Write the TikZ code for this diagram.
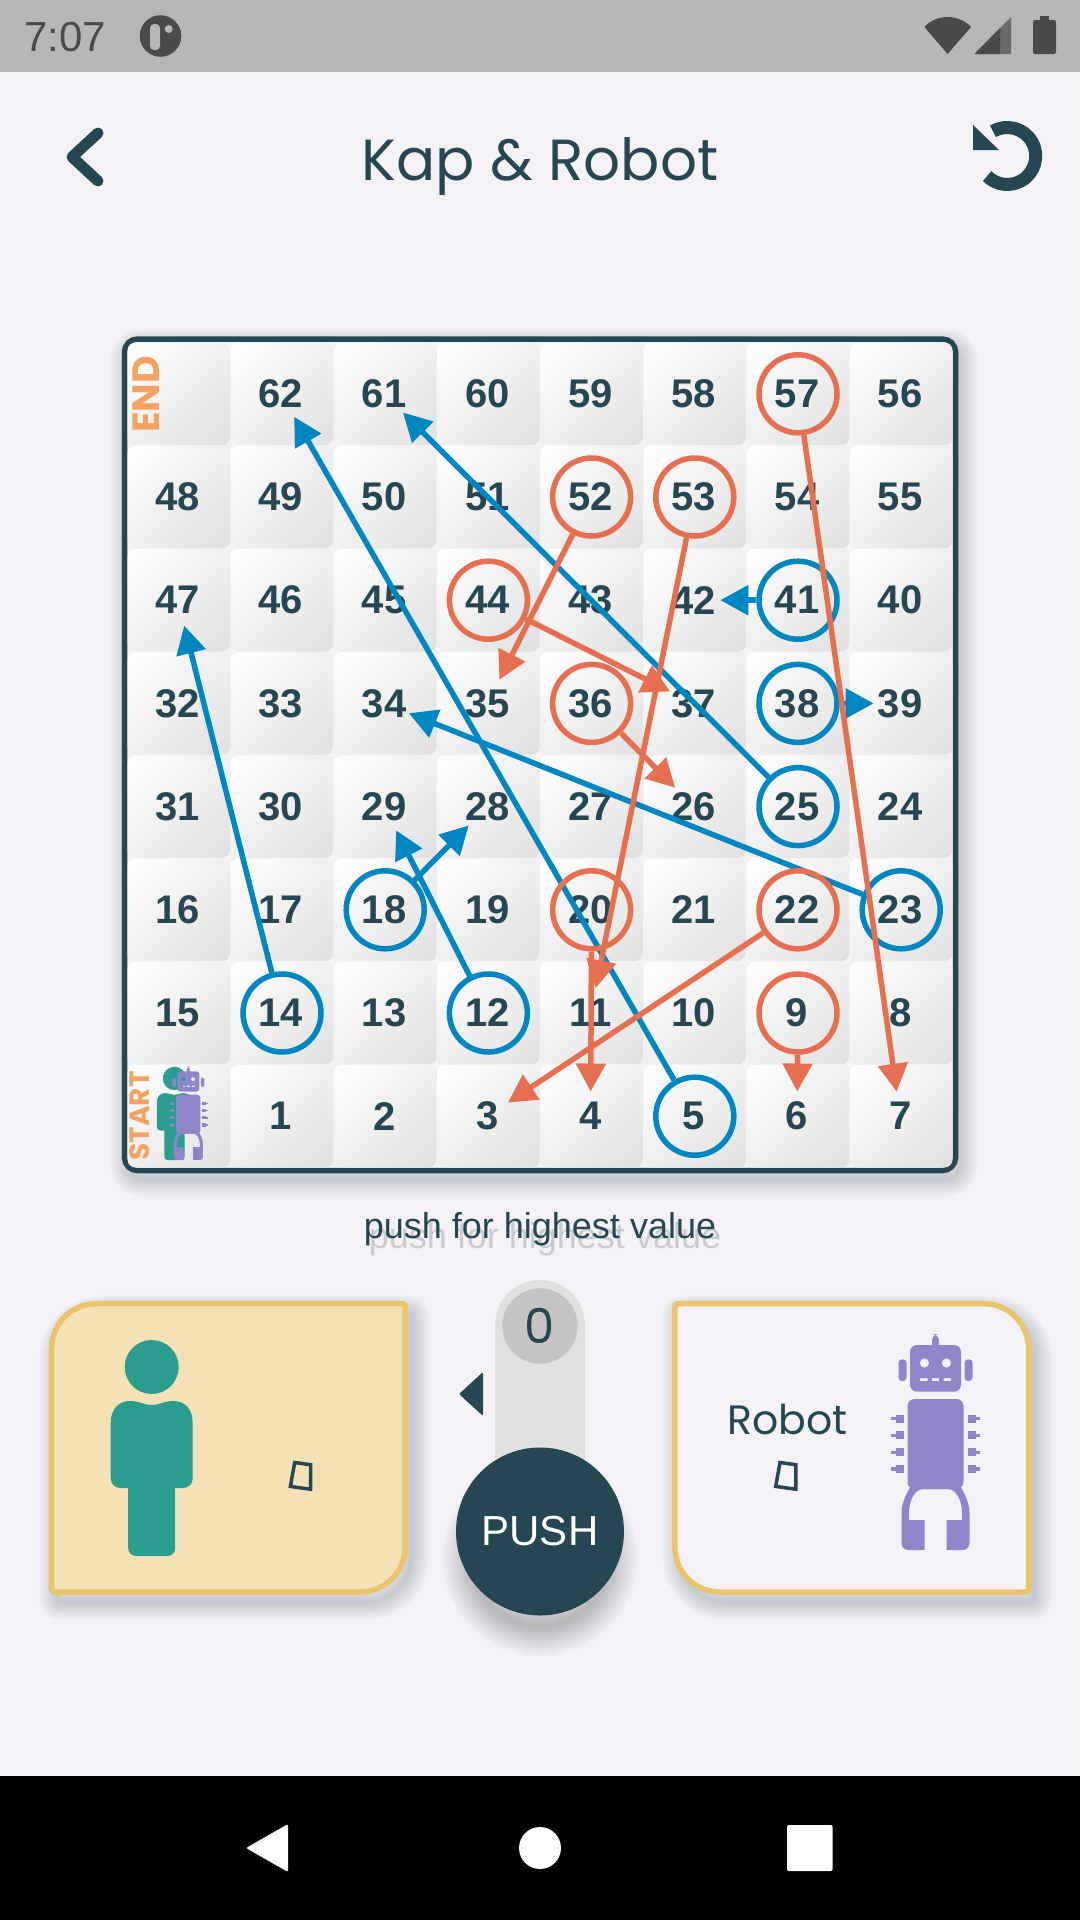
\documentclass[tikz,border=0pt]{standalone}
\usepackage{fontspec}
\setmainfont{Liberation Sans}
\newfontfamily\kapfont{Poppins}
\usetikzlibrary{arrows.meta}
\definecolor{kappage}{HTML}{F4F2F6}
\definecolor{kapbar}{HTML}{B7B5B8}
\definecolor{kapicon}{HTML}{4A4A4A}
\definecolor{kapdark}{HTML}{264653}
\definecolor{kapred}{HTML}{E76F51}
\definecolor{kapblue}{HTML}{0086C0}
\definecolor{kaporange}{HTML}{F4A261}
\definecolor{kapgold}{HTML}{E9C46A}
\definecolor{kapsand}{HTML}{F4E2B6}
\definecolor{kapgreen}{HTML}{2A9D8F}
\definecolor{kappurple}{HTML}{8E86C8}
\definecolor{kaptrack}{HTML}{E0E0E0}
\definecolor{kapknob}{HTML}{C4C4C4}
\definecolor{kapshadow}{HTML}{4F6475}
\pgfdeclareverticalshading{celltile}{100bp}{color(0bp)=(kaptrack); color(15bp)=(kaptrack); color(85bp)=(white); color(100bp)=(white)}
\newcommand{\softshadow}[2]{\foreach \w in {36,32,...,2}{\draw[shadowline, line width=\w pt, shift={(#1)}] #2;}}
\tikzset{
  cell/.style={rectangle, minimum size=102.6pt, inner sep=0pt, rounded corners=8pt, shading=celltile, shading angle=45},
  num/.style={circle, minimum size=49pt, inner sep=0pt, xshift=-1pt, text=kapdark, font=\fontsize{40}{40}\selectfont\bfseries},
  bluering/.style={circle, draw=kapblue, line width=5.5pt, minimum size=78pt, inner sep=0pt},
  redring/.style={circle, draw=kapred, line width=5.5pt, minimum size=78pt, inner sep=0pt},
  bluelink/.style={draw=kapblue, line width=5.5pt, -{Triangle[length=28pt,width=29pt]}},
  redlink/.style={draw=kapred, line width=5.5pt, -{Triangle[length=28pt,width=29pt]}},
  shadowline/.style={draw=kapshadow, draw opacity=.03, line join=round},
  cardline/.style={draw=kapgold, line width=5.5pt, line join=round},
  kaptext/.style={text=kapdark, font=\fontsize{#1}{#1}\selectfont\kapfont},
  pics/person/.style={code={
    \fill[kapgreen] (0,-80) circle[radius=27];
    \fill[kapgreen] (-23.5,30) -- (-23.5,101) .. controls (-23.5,106) and (-20,109) .. (-15,109) -- (15,109) .. controls (20,109) and (23.5,106) .. (23.5,101) -- (23.5,30) -- cycle;
    \fill[kapgreen] (-41,-24) .. controls (-41,-38) and (-33,-46) .. (-22,-46) .. controls (-12,-46) and (-8,-42) .. (0,-42) .. controls (8,-42) and (12,-46) .. (22,-46) .. controls (33,-46) and (41,-38) .. (41,-24) -- (41,31) .. controls (41,37) and (37,41) .. (31,41) -- (-31,41) .. controls (-37,41) and (-41,37) .. (-41,31) -- cycle;
  }},
  pics/robot/.style={code={
    \fill[kappurple, rounded corners=#1pt] (-3.5,-111) rectangle (3.5,-95);
    \fill[kappurple, even odd rule, rounded corners=#1pt] (-25.5,-100) rectangle (25.5,-53.3) [sharp corners] (-11,-82) circle[radius=4.7] (11,-82) circle[radius=4.7] (-15.3,-67) rectangle (-8,-64) (-3.7,-67) rectangle (3.7,-64) (8,-67) rectangle (15.3,-64);
    \fill[kappurple, rounded corners=.5*#1pt] (-37,-85.7) rectangle (-29,-64);
    \fill[kappurple, rounded corners=.5*#1pt] (29,-85.7) rectangle (37,-64);
    \fill[kappurple, rounded corners=#1pt] (-28,-46) rectangle (28,44);
    \foreach \ny in {-26.3,-9.7,7.3,24}{
      \fill[kappurple] (-40,\ny-4) rectangle (-32,\ny+4);
      \fill[kappurple] (-44.7,\ny-1.7) rectangle (-40,\ny+1.7);
      \fill[kappurple] (32,\ny-4) rectangle (40,\ny+4);
      \fill[kappurple] (40,\ny-1.7) rectangle (44.7,\ny+1.7);
    }
    \fill[kappurple] (-34,98) .. controls (-34,102) and (-31,105) .. (-27,105) -- (-11,105) -- (-11,75) -- (-26.5,75) -- (-26.5,68) .. controls (-26.5,54) and (-20,44) .. (-12,44) -- (12,44) .. controls (20,44) and (26.5,54) .. (26.5,68) -- (26.5,75) -- (11,75) -- (11,105) -- (27,105) .. controls (31,105) and (34,102) .. (34,98) -- (34,68) .. controls (34,58) and (29,48) .. (24,40) -- (-24,40) .. controls (-29,48) and (-34,58) .. (-34,68) -- cycle;
  }},
  pics/tofu/.style={code={
    \draw[kapdark, line width=3.5pt] (6,1.8) -- (21.8,4) -- (21.8,28.5) -- (1.7,25.7) -- cycle;
  }},
}
\begin{document}
\begin{tikzpicture}[x=1pt, y=-1pt]
  \useasboundingbox (0,0) rectangle (1080,1920);
  \fill[kappage] (0,0) rectangle (1080,1920);
  \fill[kapbar] (0,0) rectangle (1080,72);
  \fill[black] (0,1776) rectangle (1080,1920);
  \node[text=kapicon, font=\fontsize{42}{42}\selectfont] (clock) at (65,37) {7:07};
  \fill[kapicon] (160.5,36) circle[radius=20.8];
  \fill[kapbar, rounded corners=4pt] (150,24) rectangle (160,50);
  \fill[kapbar] (168.7,29) circle[radius=4];
  \fill[kapicon] (947.5,54) -- (924.5,27) .. controls (930,20) and (940,17) .. (947.5,17) .. controls (955,17) and (965,20) .. (971,27) -- cycle;
  \fill[kapicon!70!kapbar] (974.5,54) -- (1011,54) -- (1011,17) -- cycle;
  \fill[kapicon] (974.5,54) -- (1000,54) -- (1000,28) -- cycle;
  \fill[kapicon, rounded corners=2pt] (1033,20) rectangle (1056,54);
  \fill[kapicon] (1040,16) rectangle (1049,21);
  \draw[kapdark, line width=11pt, line cap=round, line join=round] (98,133) -- (72,157) -- (98,181);
  \draw[kapdark, line width=13pt] (993,131.3) arc[start angle=240, end angle=495, radius=28.5];
  \fill[kapdark] (973,125) -- (973,150) -- (999,150) -- cycle;
  \node[kaptext=58] (title) at (540,167) {Kap \& Robot};
  \softshadow{4,8}{[rounded corners=13pt] (124.5,339) rectangle (955.5,1170.5)}
  \draw[kapdark, fill=kappage, line width=5.5pt, rounded corners=13pt] (124.5,339) rectangle (955.5,1170.5);
  \begin{scope}[shift={(178.8,393.8)}, x=103.2pt, y=-103.2pt]
    \node[cell] (cellend) at (0,0){};
    \node[cell] (cell62) at (1,0){}; \node[num] (tid62) at (1,0){62};
    \node[cell] (cell61) at (2,0){}; \node[num] (tid61) at (2,0){61};
    \node[cell] (cell60) at (3,0){}; \node[num] (tid60) at (3,0){60};
    \node[cell] (cell59) at (4,0){}; \node[num] (tid59) at (4,0){59};
    \node[cell] (cell58) at (5,0){}; \node[num] (tid58) at (5,0){58};
    \node[cell] (cell57) at (6,0){}; \node[num] (tid57) at (6,0){57};
    \node[cell] (cell56) at (7,0){}; \node[num] (tid56) at (7,0){56};
    \node[cell] (cell48) at (0,1){}; \node[num] (tid48) at (0,1){48};
    \node[cell] (cell49) at (1,1){}; \node[num] (tid49) at (1,1){49};
    \node[cell] (cell50) at (2,1){}; \node[num] (tid50) at (2,1){50};
    \node[cell] (cell51) at (3,1){}; \node[num] (tid51) at (3,1){51};
    \node[cell] (cell52) at (4,1){}; \node[num] (tid52) at (4,1){52};
    \node[cell] (cell53) at (5,1){}; \node[num] (tid53) at (5,1){53};
    \node[cell] (cell54) at (6,1){}; \node[num] (tid54) at (6,1){54};
    \node[cell] (cell55) at (7,1){}; \node[num] (tid55) at (7,1){55};
    \node[cell] (cell47) at (0,2){}; \node[num] (tid47) at (0,2){47};
    \node[cell] (cell46) at (1,2){}; \node[num] (tid46) at (1,2){46};
    \node[cell] (cell45) at (2,2){}; \node[num] (tid45) at (2,2){45};
    \node[cell] (cell44) at (3,2){}; \node[num] (tid44) at (3,2){44};
    \node[cell] (cell43) at (4,2){}; \node[num] (tid43) at (4,2){43};
    \node[cell] (cell42) at (5,2){}; \node[num] (tid42) at (5,2){42};
    \node[cell] (cell41) at (6,2){}; \node[num] (tid41) at (6,2){41};
    \node[cell] (cell40) at (7,2){}; \node[num] (tid40) at (7,2){40};
    \node[cell] (cell32) at (0,3){}; \node[num] (tid32) at (0,3){32};
    \node[cell] (cell33) at (1,3){}; \node[num] (tid33) at (1,3){33};
    \node[cell] (cell34) at (2,3){}; \node[num] (tid34) at (2,3){34};
    \node[cell] (cell35) at (3,3){}; \node[num] (tid35) at (3,3){35};
    \node[cell] (cell36) at (4,3){}; \node[num] (tid36) at (4,3){36};
    \node[cell] (cell37) at (5,3){}; \node[num] (tid37) at (5,3){37};
    \node[cell] (cell38) at (6,3){}; \node[num] (tid38) at (6,3){38};
    \node[cell] (cell39) at (7,3){}; \node[num] (tid39) at (7,3){39};
    \node[cell] (cell31) at (0,4){}; \node[num] (tid31) at (0,4){31};
    \node[cell] (cell30) at (1,4){}; \node[num] (tid30) at (1,4){30};
    \node[cell] (cell29) at (2,4){}; \node[num] (tid29) at (2,4){29};
    \node[cell] (cell28) at (3,4){}; \node[num] (tid28) at (3,4){28};
    \node[cell] (cell27) at (4,4){}; \node[num] (tid27) at (4,4){27};
    \node[cell] (cell26) at (5,4){}; \node[num] (tid26) at (5,4){26};
    \node[cell] (cell25) at (6,4){}; \node[num] (tid25) at (6,4){25};
    \node[cell] (cell24) at (7,4){}; \node[num] (tid24) at (7,4){24};
    \node[cell] (cell16) at (0,5){}; \node[num] (tid16) at (0,5){16};
    \node[cell] (cell17) at (1,5){}; \node[num] (tid17) at (1,5){17};
    \node[cell] (cell18) at (2,5){}; \node[num] (tid18) at (2,5){18};
    \node[cell] (cell19) at (3,5){}; \node[num] (tid19) at (3,5){19};
    \node[cell] (cell20) at (4,5){}; \node[num] (tid20) at (4,5){20};
    \node[cell] (cell21) at (5,5){}; \node[num] (tid21) at (5,5){21};
    \node[cell] (cell22) at (6,5){}; \node[num] (tid22) at (6,5){22};
    \node[cell] (cell23) at (7,5){}; \node[num] (tid23) at (7,5){23};
    \node[cell] (cell15) at (0,6){}; \node[num] (tid15) at (0,6){15};
    \node[cell] (cell14) at (1,6){}; \node[num] (tid14) at (1,6){14};
    \node[cell] (cell13) at (2,6){}; \node[num] (tid13) at (2,6){13};
    \node[cell] (cell12) at (3,6){}; \node[num] (tid12) at (3,6){12};
    \node[cell] (cell11) at (4,6){}; \node[num] (tid11) at (4,6){11};
    \node[cell] (cell10) at (5,6){}; \node[num] (tid10) at (5,6){10};
    \node[cell] (cell9) at (6,6){}; \node[num] (tid9) at (6,6){9};
    \node[cell] (cell8) at (7,6){}; \node[num] (tid8) at (7,6){8};
    \node[cell] (cellstart) at (0,7){};
    \node[cell] (cell1) at (1,7){}; \node[num] (tid1) at (1,7){1};
    \node[cell] (cell2) at (2,7){}; \node[num] (tid2) at (2,7){2};
    \node[cell] (cell3) at (3,7){}; \node[num] (tid3) at (3,7){3};
    \node[cell] (cell4) at (4,7){}; \node[num] (tid4) at (4,7){4};
    \node[cell] (cell5) at (5,7){}; \node[num] (tid5) at (5,7){5};
    \node[cell] (cell6) at (6,7){}; \node[num] (tid6) at (6,7){6};
    \node[cell] (cell7) at (7,7){}; \node[num] (tid7) at (7,7){7};
  \end{scope}
  \node[rotate=90, text=kaporange, font=\fontsize{38}{38}\selectfont\bfseries\kapfont] (endlabel) at (146,394.5) {END};
  \node[rotate=90, text=kaporange, font=\fontsize{28}{28}\selectfont\bfseries\kapfont] (startlabel) at (140,1116) {START};
  \pic[scale=.432] at (174.5,1113) {person};
  \pic[scale=.432] at (188.3,1114.6) {robot=3};
  \node[bluering] (ring5) at (cell5){};
  \node[bluering] (ring25) at (cell25){};
  \node[bluering] (ring14) at (cell14){};
  \node[bluering] (ring12) at (cell12){};
  \node[bluering] (ring18) at (cell18){};
  \node[bluering] (ring41) at (cell41){};
  \node[bluering] (ring38) at (cell38){};
  \node[bluering] (ring23) at (cell23){};
  \draw[bluelink] (ring5) -- (tid62);
  \draw[bluelink] (ring25) -- (tid61);
  \draw[bluelink] (ring14) -- (tid47);
  \draw[bluelink] (ring12) -- (tid29);
  \draw[bluelink] (ring18) -- (tid28);
  \draw[bluelink] (ring41) -- (tid42);
  \draw[bluelink] (ring38) -- (tid39);
  \draw[bluelink] (ring23) -- (tid34);
  \node[redring] (ring57) at (cell57){};
  \node[redring] (ring52) at (cell52){};
  \node[redring] (ring53) at (cell53){};
  \node[redring] (ring44) at (cell44){};
  \node[redring] (ring36) at (cell36){};
  \node[redring] (ring20) at (cell20){};
  \node[redring] (ring22) at (cell22){};
  \node[redring] (ring9) at (cell9){};
  \draw[redlink] (ring57) -- (tid7);
  \draw[redlink] (ring52) -- (tid35);
  \draw[redlink] (ring53) -- (tid11);
  \draw[redlink] (ring44) -- (tid37);
  \draw[redlink] (ring36) -- (tid26);
  \draw[redlink] (ring20) -- (tid4);
  \draw[redlink] (ring22) -- (tid3);
  \draw[redlink] (ring9) -- (tid6);
  \node[text=kapdark, text opacity=.22, font=\fontsize{36}{36}\selectfont] (hintshade) at (545,1239) {push for highest value};
  \node[text=kapdark, font=\fontsize{36}{36}\selectfont] (hint) at (540,1229) {push for highest value};
  \softshadow{6,10}{(51.4,1349) .. controls (51.4,1324) and (71,1303.7) .. (96.4,1303.7) -- (399.2,1303.7) .. controls (405.2,1303.7) .. (405.2,1309.7) -- (405.2,1547) .. controls (405.2,1572) and (385,1592) .. (360.2,1592) -- (57.4,1592) .. controls (51.4,1592) .. (51.4,1586) -- cycle}
  \filldraw[cardline, fill=kapsand] (51.4,1349) .. controls (51.4,1324) and (71,1303.7) .. (96.4,1303.7) -- (399.2,1303.7) .. controls (405.2,1303.7) .. (405.2,1309.7) -- (405.2,1547) .. controls (405.2,1572) and (385,1592) .. (360.2,1592) -- (57.4,1592) .. controls (51.4,1592) .. (51.4,1586) -- cycle;
  \softshadow{6,10}{(680.8,1303.7) -- (983.7,1303.7) .. controls (1008.6,1303.7) and (1028.7,1324) .. (1028.7,1349) -- (1028.7,1586) .. controls (1028.7,1592) .. (1022.7,1592) -- (719.8,1592) .. controls (695,1592) and (674.8,1572) .. (674.8,1547) -- (674.8,1309.7) .. controls (674.8,1303.7) .. (680.8,1303.7) -- cycle}
  \filldraw[cardline, fill=kappage] (680.8,1303.7) -- (983.7,1303.7) .. controls (1008.6,1303.7) and (1028.7,1324) .. (1028.7,1349) -- (1028.7,1586) .. controls (1028.7,1592) .. (1022.7,1592) -- (719.8,1592) .. controls (695,1592) and (674.8,1572) .. (674.8,1547) -- (674.8,1309.7) .. controls (674.8,1303.7) .. (680.8,1303.7) -- cycle;
  \pic at (151.7,1447) {person};
  \pic at (935.5,1445) {robot=7};
  \pic at (288.7,1460.7) {tofu};
  \pic at (774,1460.7) {tofu};
  \node[kaptext=41] (robotname) at (787.5,1419) {Robot};
  \fill[kaptrack] (495,1531) -- (495,1325) arc[start angle=180, end angle=360, radius=45] -- (585,1531) -- cycle;
  \fill[kapknob] (540,1326) circle[radius=37.7];
  \node[kaptext=48] (counter) at (540,1326) {0};
  \fill[kapdark, rounded corners=2pt] (459,1394) -- (483,1372) -- (483,1416) -- cycle;
  \foreach \w in {60,56,...,4}{
    \draw[draw=black, draw opacity=.016, line width=\w pt] (540,1558) circle[radius=68];
  }
  \node[circle, fill=kapdark, minimum size=168pt, inner sep=0pt, text=white, font=\fontsize{42}{42}\selectfont] (push) at (540,1531.5) {PUSH};
  \fill[white, rounded corners=2pt] (246,1848) -- (288,1824) -- (288,1872) -- cycle;
  \fill[white] (540,1848) circle[radius=21];
  \fill[white, rounded corners=2pt] (787,1825) rectangle (832.6,1871);
\end{tikzpicture}
\end{document}
